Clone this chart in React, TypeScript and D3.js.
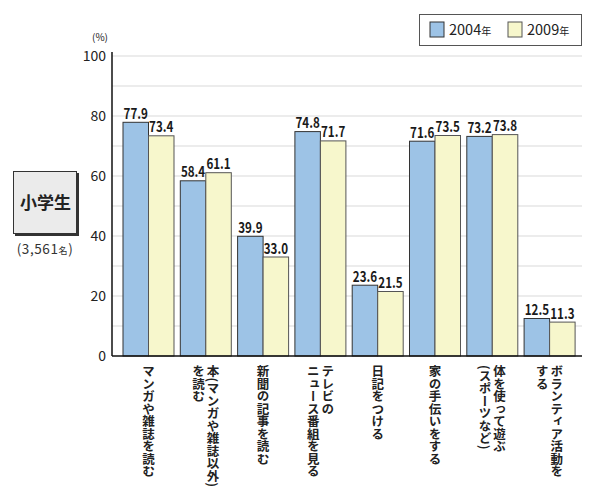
import React from "react";
import * as d3 from "d3";

const categories: string[][] = [
  ["マンガや雑誌を読む"],
  ["本(マンガや雑誌以外)", "を読む"],
  ["新聞の記事を読む"],
  ["テレビの", "ニュース番組を見る"],
  ["日記をつける"],
  ["家の手伝いをする"],
  ["体を使って遊ぶ", "(スポーツなど)"],
  ["ボランティア活動を", "する"],
];
const values2004 = [77.9, 58.4, 39.9, 74.8, 23.6, 71.6, 73.2, 12.5];
const values2009 = [73.4, 61.1, 33.0, 71.7, 21.5, 73.5, 73.8, 11.3];
const seriesNames = ["2004", "2009"];
const yTicks = [0, 20, 40, 60, 80, 100];
const gridTicks = [10, 20, 30, 40, 50, 60, 70, 80, 90, 100];

const COLORS = ["#9dc3e6", "#f7f7cc"];
const STROKES = ["#333333", "#555555"];
const FONT = "'Noto Sans CJK JP', 'Noto Sans', sans-serif";

export default function App() {
  const left = 112, right = 582, top = 56, bottom = 356;
  const x = d3.scaleBand<number>().domain(d3.range(categories.length)).range([116.7, 581.4]).padding(0.11);
  const xs = d3.scaleBand<number>().domain([0, 1]).range([0, x.bandwidth()]);
  const y = d3.scaleLinear().domain([0, 100]).range([bottom, top]);
  const series = [values2004, values2009];

  return (
    <svg width={600} height={500} style={{ display: "block", position: "absolute", left: 0, top: 0 }} fontFamily={FONT}>
      <rect width={600} height={500} fill="#fff" />
      {/* grid */}
      {gridTicks.map((t) => (
        <line key={t} x1={left} x2={right} y1={y(t)} y2={y(t)} stroke="#d9d9d9" strokeWidth={1} />
      ))}
      {/* bars */}
      {categories.map((_, i) =>
        series.map((s, k) => (
          <rect
            key={`${i}-${k}`}
            x={(x(i) as number) + (xs(k) as number)}
            y={y(s[i])}
            width={xs.bandwidth()}
            height={bottom - y(s[i])}
            fill={COLORS[k]}
            stroke={STROKES[k]}
            strokeWidth={1}
          />
        ))
      )}
      {/* value labels */}
      {categories.map((_, i) =>
        series.map((s, k) => (
          <g
            key={`v${i}-${k}`}
            transform={`translate(${(x(i) as number) + (xs(k) as number) + xs.bandwidth() / 2},${y(s[i]) - 3.5}) scale(0.8,1)`}
          >
            <text x={0} y={0} textAnchor="middle" fontSize={14.5} fontWeight="bold" fill="#1a1a1a">
              {s[i].toFixed(1)}
            </text>
          </g>
        ))
      )}
      {/* axes */}
      <line x1={left} x2={left} y1={top - 4} y2={bottom} stroke="#111" strokeWidth={1.5} />
      <line x1={left} x2={right} y1={bottom} y2={bottom} stroke="#111" strokeWidth={1.5} />
      {yTicks.map((t) => (
        <text key={t} x={106} y={y(t) + 5} textAnchor="end" fontSize={14} fill="#222">
          {t}
        </text>
      ))}
      <text x={100} y={41} textAnchor="middle" fontSize={10} fill="#222">(%)</text>
      {/* category labels */}
      {categories.map((lines, i) => {
        const cx = (x(i) as number) + x.bandwidth() / 2;
        const n = lines.length;
        const spacing = 14.5;
        return lines.map((line, j) => (
          <text
            key={`c${i}-${j}`}
            x={cx + ((n - 1) / 2 - j) * spacing}
            y={365}
            style={{ writingMode: "vertical-rl" as any, textOrientation: "mixed" as any }}
            fontSize={12.5}
            fontWeight="bold"
            fill="#222"
          >
            {line}
          </text>
        ));
      })}
      {/* legend */}
      <rect x={419.5} y={14.5} width={162} height={31} fill="#fff" stroke="#555" strokeWidth={1} />
      {seriesNames.map((name, k) => (
        <g key={name} transform={`translate(${430 + k * 78},22)`}>
          <rect x={0} y={0} width={14} height={15} fill={COLORS[k]} stroke={STROKES[k]} strokeWidth={1} />
          <text x={19} y={13} fontSize={14.5} fill="#222">
            {name}
            <tspan fontSize={10}>年</tspan>
          </text>
        </g>
      ))}
      {/* left label box */}
      <rect x={15} y={173} width={64} height={63} fill="#333" />
      <rect x={13.5} y={171.5} width={63} height={62} fill="#ebebeb" stroke="#333" strokeWidth={1} />
      <text x={45.5} y={209} textAnchor="middle" fontSize={17} fontWeight="bold" fill="#222">小学生</text>
      <text x={45} y={254} textAnchor="middle" fontSize={13.5} letterSpacing={0.6} fill="#333">
        (3,561<tspan fontSize={9}>名</tspan>)
      </text>
    </svg>
  );
}
